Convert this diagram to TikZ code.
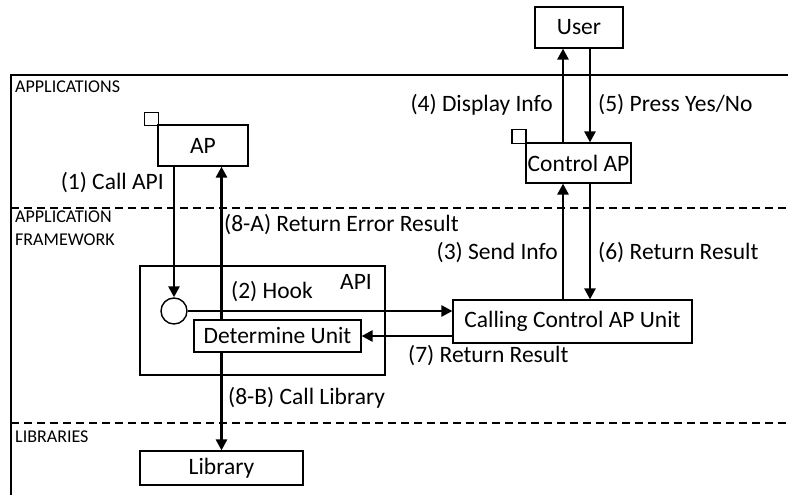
\documentclass[tikz,border=0pt]{standalone}
\usepackage{fontspec}
\setmainfont{Carlito}
\usepackage{tikz}
\usetikzlibrary{arrows.meta, positioning, calc}

\begin{document}
\begin{tikzpicture}[
    x=1pt, y=-1pt,
    box/.style   = {draw, line width=1.2pt, inner sep=0pt, font=\fontsize{23.5}{28}\selectfont},
    tab/.style   = {draw, line width=1.2pt, inner sep=0pt, minimum width=14pt, minimum height=13.5pt},
    hookpt/.style = {circle, draw, line width=1.4pt, inner sep=0pt, minimum size=26pt},
    arr/.style   = {line width=2.6pt, -{Triangle[length=11pt, width=11pt]}},
    lbl/.style   = {inner sep=0pt, font=\fontsize{23.5}{28}\selectfont},
    layer/.style = {inner sep=0pt, align=left, font=\fontsize{18}{23}\selectfont},
    border/.style = {line width=1.2pt},
    sep/.style   = {line width=1.2pt, dash pattern=on 8pt off 5pt}
]
\useasboundingbox (0,0) rectangle (788,495);

% Frame and layers
\draw [border] (788,75) -- (11,75) -- (11,495);
\draw [sep] (11,208) -- (788,208);
\draw [sep] (11,423) -- (788,423);
\node (applications) [layer, anchor=west] at (15,87) {APPLICATIONS};
\node (framework) [layer, anchor=north west] at (15,211) {APPLICATION\\FRAMEWORK};
\node (libraries) [layer, anchor=west] at (15,437) {LIBRARIES};

% Applications
\node (user) [box, minimum width=88pt, minimum height=41pt] at (579,27.5) {User};
\node (ap) [box, minimum width=90pt, minimum height=41pt] at (203,145.5) {AP};
\node (aptab) [tab] at (151.5,119) {};
\node (ctrl) [box, minimum width=105pt, minimum height=40pt] at (578.5,163) {Control AP};
\node (ctrltab) [tab] at (519,136.5) {};

% Application framework
\node (api) [box, minimum width=245pt, minimum height=109pt] at (262.5,320.5) {};
\node (apiname) [lbl] at (356,282) {API};
\node (hook) [hookpt] at (174,311) {};
\node (det) [box, fill=white, minimum width=167pt, minimum height=32pt] at (277.5,336) {Determine Unit};
\node (call) [box, minimum width=239pt, minimum height=43pt] at (572.5,321.5) {Calling Control AP Unit};

% Libraries
\node (lib) [box, minimum width=163pt, minimum height=34pt] at (221.5,468) {Library};

% Columns of the vertical arrows
\coordinate (lx) at (563,0);
\coordinate (rx) at (590,0);

% Arrows
\draw [arr] (ap.south -| hook.north) -- (hook.north);
\draw [arr] (hook.east) -- (hook.east -| call.west);
\draw [arr] (call.north -| lx) -- (ctrl.south -| lx);
\draw [arr] (ctrl.north -| lx) -- (user.south -| lx);
\draw [arr] (user.south -| rx) -- (ctrl.north -| rx);
\draw [arr] (ctrl.south -| rx) -- (call.north -| rx);
\draw [arr] (call.west |- det.east) -- (det.east);
\draw [arr] (det.north -| lib.north) -- (ap.south -| lib.north);
\draw [arr] (det.south -| lib.north) -- (lib.north);

% Labels
\node (l1) [lbl, anchor=east] at (164,183) {(1) Call API};
\node (l2) [lbl, anchor=west] at (231,292) {(2) Hook};
\node (l3) [lbl, anchor=east] at (558,253) {(3) Send Info};
\node (l4) [lbl, anchor=east] at (553,105) {(4) Display Info};
\node (l5) [lbl, anchor=west] at (598,105) {(5) Press Yes/No};
\node (l6) [lbl, anchor=west] at (598,253) {(6) Return Result};
\node (l7) [lbl, anchor=west] at (408,356) {(7) Return Result};
\node (l8a) [lbl, anchor=west] at (224,225) {(8-A) Return Error Result};
\node (l8b) [lbl, anchor=west] at (228,398) {(8-B) Call Library};

\end{tikzpicture}
\end{document}
